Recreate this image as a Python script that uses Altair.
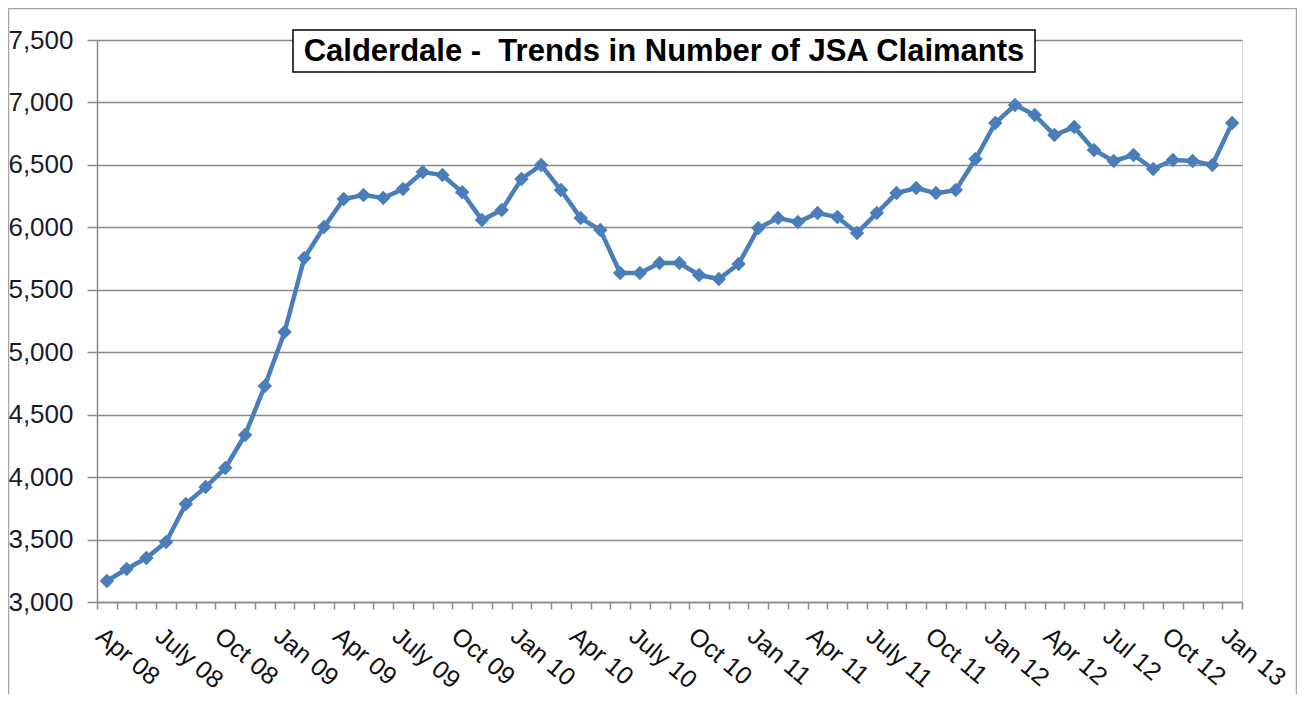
import json
import altair as alt
import pandas as pd

months = ["Apr 08", "May 08", "Jun 08", "July 08", "Aug 08", "Sep 08", "Oct 08", "Nov 08", "Dec 08",
          "Jan 09", "Feb 09", "Mar 09", "Apr 09", "May 09", "Jun 09", "July 09", "Aug 09", "Sep 09",
          "Oct 09", "Nov 09", "Dec 09",
          "Jan 10", "Feb 10", "Mar 10", "Apr 10", "May 10", "Jun 10", "July 10", "Aug 10", "Sep 10",
          "Oct 10", "Nov 10", "Dec 10",
          "Jan 11", "Feb 11", "Mar 11", "Apr 11", "May 11", "Jun 11", "July 11", "Aug 11", "Sep 11",
          "Oct 11", "Nov 11", "Dec 11",
          "Jan 12", "Feb 12", "Mar 12", "Apr 12", "May 12", "Jun 12", "Jul 12", "Aug 12", "Sep 12",
          "Oct 12", "Nov 12", "Dec 12",
          "Jan 13"]

claimants = [3168, 3264, 3352, 3480, 3785, 3920, 4073, 4337, 4729, 5162,
             5754, 6002, 6227, 6258, 6235, 6307, 6443, 6419, 6280, 6058,
             6138, 6387, 6499, 6299, 6074, 5978, 5634, 5634, 5714, 5714,
             5618, 5586, 5706, 5994, 6074, 6042, 6114, 6082, 5954, 6114,
             6274, 6314, 6274, 6298, 6547, 6835, 6979, 6899, 6739, 6803,
             6619, 6531, 6579, 6467, 6539, 6531, 6499, 6835]

shown_labels = ["Apr 08", "July 08", "Oct 08", "Jan 09", "Apr 09", "July 09", "Oct 09", "Jan 10",
                "Apr 10", "July 10", "Oct 10", "Jan 11", "Apr 11", "July 11", "Oct 11", "Jan 12",
                "Apr 12", "Jul 12", "Oct 12", "Jan 13"]

y_ticks = [3000, 3500, 4000, 4500, 5000, 5500, 6000, 6500, 7000, 7500]

title_text = "Calderdale -\u00a0 Trends in Number of JSA Claimants"

df = pd.DataFrame({"month": months, "claimants": claimants})
one = pd.DataFrame({"k": [0]})

LINE_COLOR = "#4A7EBB"
AXIS_GREY = "#8a8a8a"

label_expr = "indexof(" + json.dumps(shown_labels) + ", datum.value) >= 0 ? datum.value : ''"

x_enc = alt.X(
    "month:O",
    sort=months,
    bandPosition=0.5,
    scale=alt.Scale(type="band", paddingInner=0, paddingOuter=0),
    axis=alt.Axis(
        title=None, grid=False, tickBand="extent", labelAngle=40, labelAlign="left",
        labelBaseline="top", labelExpr=label_expr, labelOverlap=False,
        labelFont="Liberation Sans", labelFontSize=25, labelColor="#111111",
        labelPadding=14, tickSize=7, tickColor=AXIS_GREY, domainColor=AXIS_GREY,
        tickWidth=1.5, domainWidth=1.5,
    ),
)
y_enc = alt.Y(
    "claimants:Q",
    scale=alt.Scale(domain=[3000, 7500], nice=False, zero=False),
    axis=alt.Axis(
        title=None, values=y_ticks, format=",d", grid=True, gridColor=AXIS_GREY,
        gridWidth=1.5, labelFont="Liberation Sans", labelFontSize=26, labelColor="#1a1a2a",
        labelPadding=14, tickSize=10, tickColor=AXIS_GREY, domainColor=AXIS_GREY,
        tickWidth=1.5, domainWidth=1.5,
    ),
)

base = alt.Chart(df).encode(x=x_enc, y=y_enc)
line = base.mark_line(color=LINE_COLOR, strokeWidth=4.5)
points = base.mark_point(shape="diamond", filled=True, size=210, color=LINE_COLOR, opacity=1)

frame = alt.Chart(one).mark_rect(fillOpacity=0, stroke="#a6a6a6", strokeWidth=1.5).encode(
    x=alt.value(-88.5), x2=alt.value(1199.5), y=alt.value(-31.5), y2=alt.value(700)
)
title_box = alt.Chart(one).mark_rect(fill="white", stroke="black", strokeWidth=1.5).encode(
    x=alt.value(196), x2=alt.value(938), y=alt.value(-10), y2=alt.value(32)
)
title = alt.Chart(one).mark_text(
    text=title_text, font="Liberation Sans", fontWeight="bold", fontSize=31,
    color="black", align="center", baseline="middle"
).encode(x=alt.value(567), y=alt.value(12))

chart = alt.layer(line, points, frame, title_box, title).properties(
    width=1145, height=562,
    autosize=alt.AutoSizeParams(type="none"),
    padding={"left": 89, "top": 32, "right": 55, "bottom": 92},
).configure_view(stroke=None).configure(background="white")

chart.save("out.html", embed_options={"renderer": "svg", "actions": False})
